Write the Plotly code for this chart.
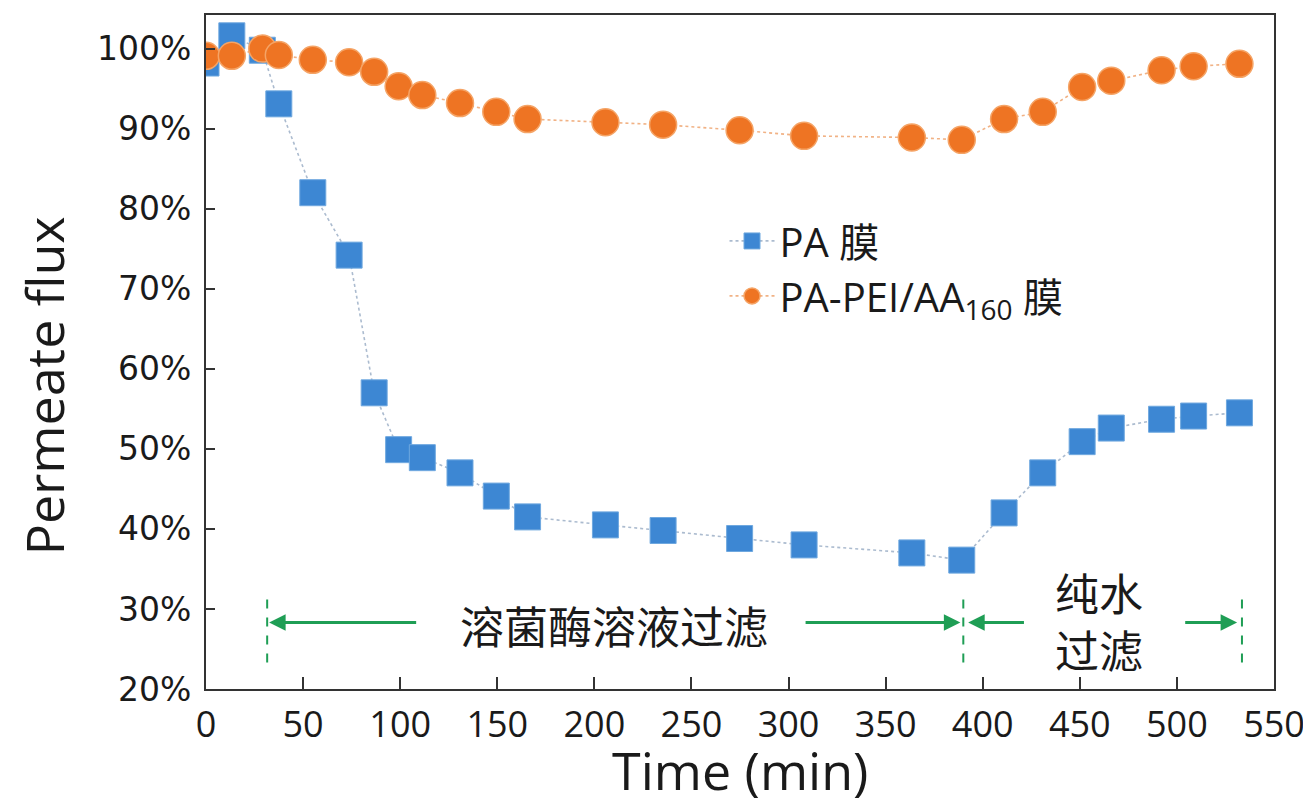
import plotly.graph_objects as go

# ---- data ----
time_min = [0, 13.3, 29, 37.5, 55, 73.7, 86.6, 99.2, 111.4, 130.8, 149.5, 165.6,
            205.7, 235.4, 274.8, 308, 363.5, 389.2, 411, 430.9, 451.2, 466.2,
            492.1, 508.6, 532.2]
flux_pa = [98.2, 101.6, 99.8, 93.1, 82.0, 74.2, 57.0, 49.9, 48.9, 47.0, 44.1, 41.5,
           40.5, 39.8, 38.8, 38.0, 37.0, 36.1, 42.0, 47.0, 50.9, 52.6, 53.7, 54.1, 54.5]
flux_pei = [99.1, 99.1, 100.0, 99.2, 98.6, 98.3, 97.1, 95.3, 94.2, 93.2, 92.1, 91.2,
            90.8, 90.5, 89.8, 89.1, 88.9, 88.6, 91.2, 92.1, 95.2, 96.0, 97.3, 97.8, 98.1]
series_names = ["PA 膜", "PA-PEI/AA<sub>160</sub> 膜"]

x_ticks = [0, 50, 100, 150, 200, 250, 300, 350, 400, 450, 500, 550]
y_ticks = [20, 30, 40, 50, 60, 70, 80, 90, 100]
y_ticktext = [f"{v}%" for v in y_ticks]
x_title = "Time (min)"
y_title = "Permeate flux"

# phase annotation data
phase_bounds = [31.5, 390, 533.5]          # dashed boundaries (min)
phase1_label = "溶菌酶溶液过滤"
phase2_label = "纯水<br>过滤"

GREEN = "#1F9E55"
FONT_LAT = "Open Sans, Noto Sans CJK SC, sans-serif"

fig = go.Figure()
fig.add_trace(go.Scatter(
    x=time_min, y=flux_pa, mode="lines+markers", name=series_names[0],
    line=dict(color="rgba(150,170,195,0.8)", width=1.6, dash="dot"),
    marker=dict(symbol="square", size=26, color="#3D87D3",
                line=dict(color="#6FA8DF", width=1)),
))
fig.add_trace(go.Scatter(
    x=time_min, y=flux_pei, mode="lines+markers", name=series_names[1],
    line=dict(color="rgba(240,170,120,0.9)", width=1.6, dash="dot"),
    marker=dict(symbol="circle", size=27, color="#EE7423",
                line=dict(color="#F5A466", width=1.5)),
))

# dashed phase boundaries
for b in phase_bounds:
    fig.add_shape(type="line", xref="x", yref="y", x0=b, x1=b, y0=23.3, y1=31.5,
                  line=dict(color=GREEN, width=2, dash="dash"))

# arrows (tail -> head)
arrow_specs = [(109, phase_bounds[0] + 1), (308, phase_bounds[1] - 1.5),
               (422, phase_bounds[1] + 2.5), (503.5, phase_bounds[2] - 2.5)]
for tail, head in arrow_specs:
    fig.add_annotation(x=head, y=28.3, ax=tail, ay=28.3, xref="x", yref="y",
                       axref="x", ayref="y", text="", showarrow=True,
                       arrowhead=2, arrowsize=1.1, arrowwidth=3, arrowcolor=GREEN)

fig.add_annotation(x=210, y=28.0, xref="x", yref="y", text=phase1_label,
                   showarrow=False, font=dict(family="Noto Sans CJK SC", size=44, color="#1a1a1a"))
fig.add_annotation(x=460, y=28.6, xref="x", yref="y", text=phase2_label,
                   showarrow=False, font=dict(family="Noto Sans CJK SC", size=44, color="#1a1a1a"))

# axis titles
fig.add_annotation(x=0.5, y=-0.119, xref="paper", yref="paper", text=x_title,
                   showarrow=False, yanchor="middle",
                   font=dict(family=FONT_LAT, size=52, color="#1a1a1a"))
fig.add_annotation(x=-0.152, y=0.45, xref="paper", yref="paper", text=y_title,
                   showarrow=False, xanchor="center", yanchor="middle", textangle=-90,
                   font=dict(family=FONT_LAT, size=52, color="#1a1a1a"))

# the page body adds an 8px offset; margins compensate for it
fig.update_layout(
    width=1311, height=809,
    margin=dict(l=198, r=45, t=7, b=127.5, autoexpand=False),
    paper_bgcolor="white", plot_bgcolor="white",
    showlegend=True,
    legend=dict(x=0.4855, y=0.624, xanchor="left", yanchor="middle",
                font=dict(family=FONT_LAT, size=40, color="#1a1a1a"),
                itemwidth=45,
                bgcolor="rgba(0,0,0,0)", tracegroupgap=0),
)
fig.update_xaxes(
    range=[0, 550], tickvals=x_ticks, ticks="inside", ticklen=12, tickwidth=2,
    tickcolor="#333", showline=True, linecolor="#333", linewidth=2, mirror=True,
    showgrid=False, zeroline=False, automargin=False, ticklabelstandoff=3,
    tickfont=dict(family=FONT_LAT, size=36, color="#1a1a1a"),
)
fig.update_yaxes(
    range=[20, 104.2], tickvals=y_ticks, ticktext=y_ticktext, ticks="inside", ticklen=9,
    tickwidth=2, tickcolor="#333", showline=True, linecolor="#333", linewidth=2,
    mirror=True, showgrid=False, zeroline=False, automargin=False, ticklabelstandoff=6,
    tickfont=dict(family="DejaVu Sans", size=33, color="#1a1a1a"),
)

fig.write_html("out.html")
